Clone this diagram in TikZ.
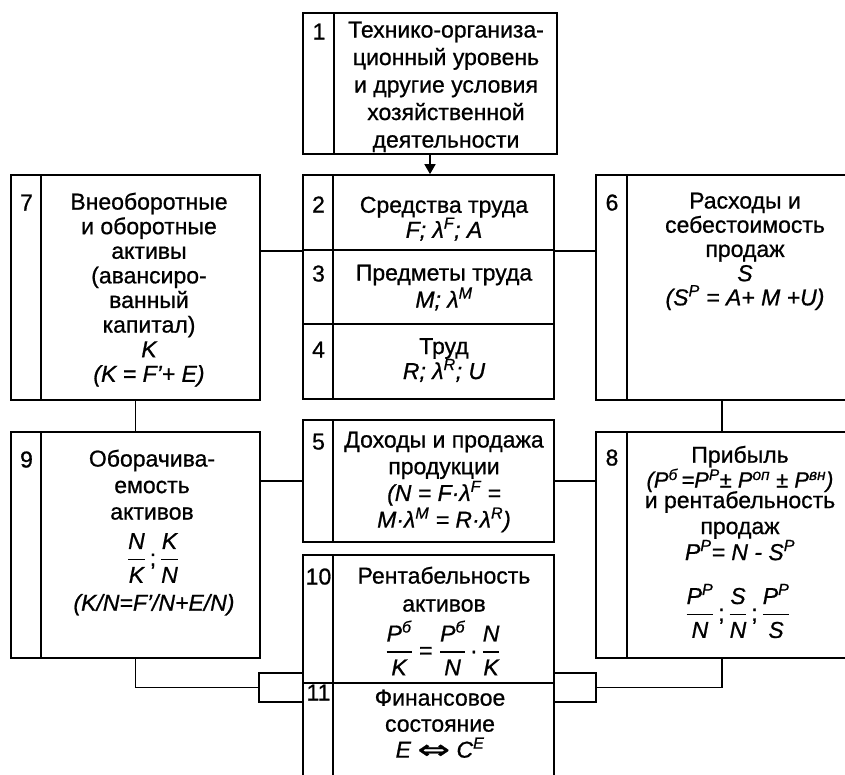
\documentclass[tikz,border=0pt]{standalone}
\usepackage{amsmath}
\usepackage{fontspec}
\setmainfont[FakeBold=0.8]{Liberation Sans}
\newfontfamily\dejavu[FakeBold=0.8]{DejaVu Sans}
\usetikzlibrary{arrows.meta}
\newcommand\fr[2]{$\genfrac{}{}{1.4pt}{0}{\textit{#1}}{\textit{#2}}$}
\newcommand\sps[1]{\textsuperscript{#1}}
\tikzset{
  box/.style={draw, rectangle, line width=1.7pt, inner sep=0pt},
  ln/.style={line width=1.7pt},
  txt/.style={anchor=north, align=center, inner sep=0pt, font=\fontsize{23}{#1}\selectfont, execute at begin node=\rule{0pt}{18pt}},
  txt/.default=25,
  frm/.style={anchor=center, inner sep=0pt, font=\fontsize{23}{25}\selectfont},
  num/.style={anchor=base, inner sep=0pt, font=\fontsize{23}{25}\selectfont}
}
\begin{document}
\lineskiplimit=-30pt\relax
\begin{tikzpicture}[x=1pt,y=-1pt]
\useasboundingbox (0,0) rectangle (845,774);
% boxes
\node[box, minimum width=254pt, minimum height=141pt] (b1) at (430,83.5) {};
\node[box, minimum width=251pt, minimum height=75pt] (b2) at (428.5,212.5) {};
\node[box, minimum width=251pt, minimum height=74pt] (b3) at (428.5,287) {};
\node[box, minimum width=251pt, minimum height=75pt] (b4) at (428.5,361.5) {};
\node[box, minimum width=249pt, minimum height=225pt] (b7) at (135.5,287.5) {};
\node[box, minimum width=252pt, minimum height=225pt] (b6) at (722,287.5) {};
\node[box, minimum width=249pt, minimum height=226pt] (b9) at (135.5,545) {};
\node[box, minimum width=251pt, minimum height=122pt] (b5) at (428.5,481) {};
\node[box, minimum width=252pt, minimum height=226pt] (b8) at (722,545) {};
\node[box, minimum width=251pt, minimum height=128pt] (b10) at (428.5,619) {};
\node[box, minimum width=251pt, minimum height=117pt] (b11) at (428.5,741.5) {};
\node[box, minimum width=44pt, minimum height=29pt] (r1) at (281,687.5) {};
\node[box, minimum width=42pt, minimum height=29pt] (r2) at (575,687.5) {};
% number dividers
\draw[ln] ([xshift=32pt]b1.north west) -- ([xshift=32pt]b1.south west);
\draw[ln] ([xshift=31pt]b2.north west) -- ([xshift=31pt]b4.south west);
\draw[ln] ([xshift=31pt]b7.north west) -- ([xshift=31pt]b7.south west);
\draw[ln] ([xshift=32pt]b6.north west) -- ([xshift=32pt]b6.south west);
\draw[ln] ([xshift=31pt]b9.north west) -- ([xshift=31pt]b9.south west);
\draw[ln] ([xshift=31pt]b5.north west) -- ([xshift=31pt]b5.south west);
\draw[ln] ([xshift=32pt]b8.north west) -- ([xshift=32pt]b8.south west);
\draw[ln] ([xshift=31pt]b10.north west) -- ([xshift=31pt]b11.south west);
% connectors
\draw[ln, -{Triangle[width=11pt,length=10pt]}] (b1.south) -- (b1.south |- b2.north);
\draw[ln] (b7.east |- b2.south) -- (b2.south west);
\draw[ln] (b2.south east) -- (b6.west |- b2.south);
\draw[ln] (b7.south) -- (b7.south |- b9.north);
\draw[ln] (b6.south) -- (b6.south |- b8.north);
\draw[ln] (b9.east |- b5.west) -- (b5.west);
\draw[ln] (b5.east) -- (b8.west |- b5.east);
\draw[ln] (b9.south) |- (r1.west);
\draw[ln] (b8.south) |- (r2.east);
% numbers
\node[num] (n1) at (319,39.5) {1};
\node[num] (n2) at (318.5,212.5) {2};
\node[num] (n3) at (318.5,281.5) {3};
\node[num] (n4) at (318.5,357.5) {4};
\node[num] (n5) at (318.5,449.5) {5};
\node[num] (n6) at (612,210.5) {6};
\node[num] (n7) at (26.5,210.5) {7};
\node[num] (n8) at (612,465.5) {8};
\node[num] (n9) at (26.5,467.5) {9};
\node[num] (n10) at (318.5,584.5) {10};
\node[num] (n11) at (318.5,700.5) {11};
% texts
\node[txt=27.5] (t1) at (446,21.5) {Технико-организа-\\ционный уровень\\и другие условия\\хозяйственной\\деятельности};
\node[txt=25] (t2) at (444,196.5) {Средства труда\\\itshape F; λ\sps{F}; A};
\node[txt=27] (t3) at (444,264.5) {Предметы труда\\\itshape M; λ\sps{M}};
\node[txt=25] (t4) at (444,338) {Труд\\\itshape R; λ\sps{R}; U};
\node[txt=26.7] (t5) at (444,431.5) {Доходы и продажа\\продукции\\\itshape (N = F·λ\sps{F} =\\\itshape M·λ\sps{M} = R·λ\sps{R})};
\node[txt=24.2] (t6) at (745,192.5) {Расходы и\\себестоимость\\продаж\\\itshape S\\\itshape (S\sps{P} = A+ M +U)};
\node[txt=24.6] (t7) at (149,192.5) {Внеоборотные\\и оборотные\\активы\\(авансиро-\\ванный\\капитал)\\\itshape K\\\itshape (K = F'+ E)};
\node[txt] (t8) at (740,444.5) {Прибыль};
\node[anchor=base, inner sep=0pt, font=\fontsize{22}{22}\selectfont\itshape] (t8b) at (740,487.5) {(P\sps{б}\,=P\sps{P}± P\sps{оп} ± P\sps{вн})};
\node[txt=26] (t8c) at (740,491) {и рентабельность\\продаж\\\itshape P\sps{P}= N - S\sps{P}};
\node[frm] (f8) at (738,611) {\fr{P\sps{P}}{N}\,;\,\fr{S}{N}\,;\,\fr{P\sps{P}}{S}};
\node[txt=26.5] (t9) at (152,449.5) {Оборачива-\\емость\\активов};
\node[frm] (f9) at (153,558) {\fr{N}{K}\,;\,\fr{K}{N}};
\node[txt] (t9b) at (154,592.5) {\itshape (K/N=F'/N+E/N)};
\node[txt=28] (t10) at (444,566.5) {Рентабельность\\активов};
\node[frm] (f10) at (443,648) {\fr{P\sps{б}}{K} = \fr{P\sps{б}}{N}\,·\,\fr{N}{K}};
\node[txt=26] (t11) at (440,689.5) {Финансовое\\состояние\\\itshape E \raisebox{-1pt}{\scalebox{1.7}[1.15]{\dejavu ⇔}} C\sps{E}};
\end{tikzpicture}
\end{document}
